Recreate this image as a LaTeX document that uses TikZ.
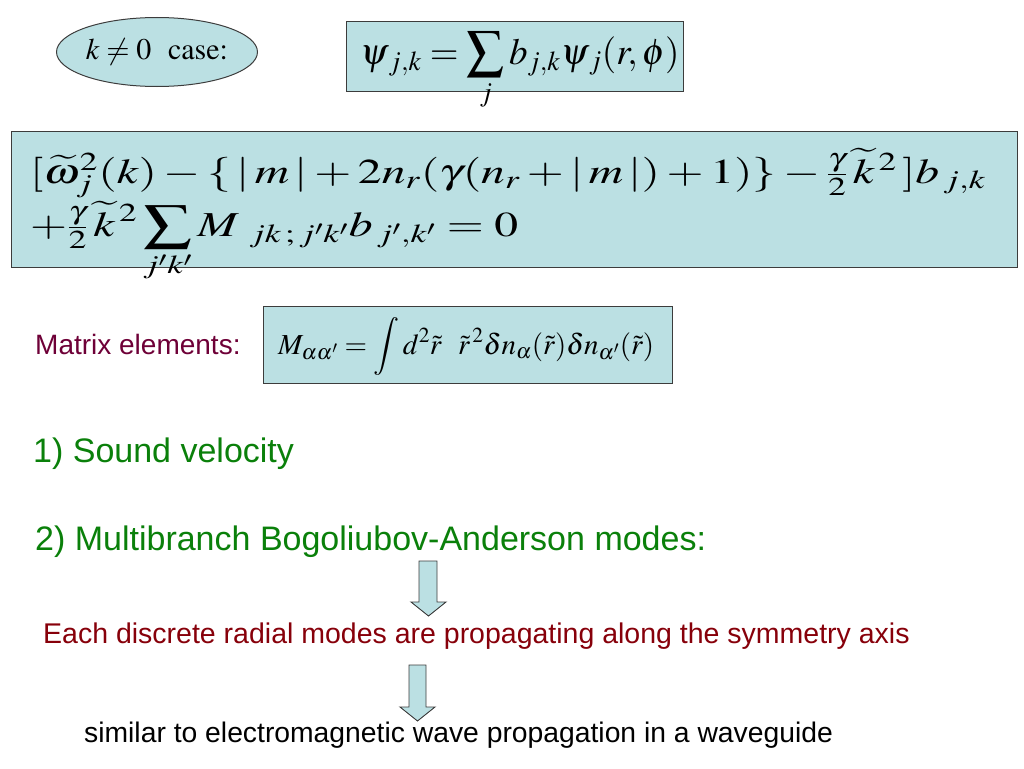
\documentclass[tikz,border=0pt]{standalone}
\usepackage{mathptmx}
\usepackage{amsmath}
\usepackage{graphicx}
\usepackage[no-math]{fontspec}
\setmainfont{Liberation Sans}
\usetikzlibrary{shapes.geometric}
\definecolor{boxfill}{RGB}{187,224,227}
\definecolor{boxline}{RGB}{60,60,60}
\definecolor{txtgreen}{RGB}{10,128,10}
\definecolor{txtmaroon}{RGB}{110,0,55}
\definecolor{txtred}{RGB}{135,0,10}
\tikzset{
  eqbox/.style={draw=boxline, fill=boxfill, line width=1pt},
  txt/.style={inner sep=0pt, anchor=base west},
  blockarrow/.style={draw=boxline, fill=boxfill, line width=0.9pt, line join=miter}
}
\begin{document}
\begin{tikzpicture}[x=1pt,y=-1pt]
\useasboundingbox (0,0) rectangle (1024,768);
% ellipse
\node[ellipse, eqbox, minimum width=187pt, minimum height=69pt, inner sep=0pt] (case) at (157,52)
  {\fontsize{30}{34}\selectfont $k \neq 0\ \ \mathrm{case}{:}$};
% box 1
\draw[eqbox] (346,22) rectangle (683,91);
\node[txt] (psi) at (360,64) {\fontsize{37}{40}\selectfont $\displaystyle \psi_{\,j,k} = \sum_{j} b_{j,k}\psi_{\,j}(r,\phi)$};
% box 2
\draw[eqbox] (11,131) rectangle (1017,267);
\node[txt] (eqA) at (30,183) {\scalebox{1.36}[1]{\fontsize{35}{38}\selectfont $[\widetilde{\omega}_j^{2}(k) - \{\,|\,m\,| + 2n_r(\gamma(n_r + |\,m\,|) + 1)\} - \tfrac{\gamma}{2}\,\widetilde{k}^{\,2}\,]b_{\,j,k}$}};
\node[txt] (eqB) at (30,236) {\scalebox{1.36}[1]{\fontsize{35}{38}\selectfont $\displaystyle +\tfrac{\gamma}{2}\,\widetilde{k}^{\,2}\sum_{j'k'} M_{\ jk\,;\,j'k'} b_{\,j',k'} = 0$}};
% box 3
\draw[eqbox] (263,306) rectangle (672,383);
\node[txt] (mat) at (278,354) {\fontsize{29}{33}\selectfont $\displaystyle M_{\alpha\alpha'} = \int d^{2}\tilde{r}\ \ \tilde{r}^{\,2}\delta n_{\alpha}(\tilde{r})\delta n_{\alpha'}(\tilde{r})$};
% texts
\node[txt, text=txtmaroon] (matlbl) at (35,354) {\fontsize{28}{32}\selectfont Matrix elements:};
\node[txt, text=txtgreen] (sound) at (33,462) {\fontsize{34}{40}\selectfont 1) Sound velocity};
\node[txt, text=txtgreen] (multi) at (35,550) {\fontsize{34}{40}\selectfont 2) Multibranch Bogoliubov-Anderson modes:};
\node[txt, text=txtred] (each) at (43,643) {\fontsize{28.5}{32}\selectfont Each discrete radial modes are propagating along the symmetry axis};
\node[txt] (similar) at (84,742) {\fontsize{28.3}{32}\selectfont similar to electromagnetic wave propagation in a waveguide};
% block arrows
\draw[blockarrow] (419,561) -- (437,561) -- (437,602) -- (446,602) -- (428.5,616) -- (411,602) -- (419,602) -- cycle;
\draw[blockarrow] (409,665) -- (426,665) -- (426,707) -- (435,707) -- (417.5,721) -- (400,707) -- (409,707) -- cycle;
\end{tikzpicture}
\end{document}
